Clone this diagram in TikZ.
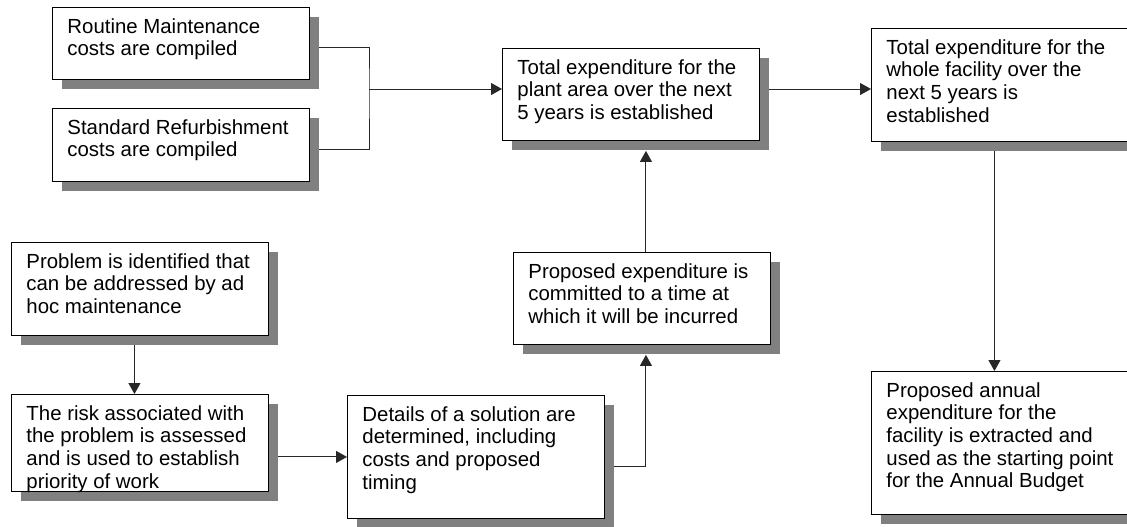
\documentclass[tikz,border=0pt]{standalone}
\usepackage{fontspec}
\setmainfont{Liberation Sans}
\usetikzlibrary{arrows.meta,shadows,backgrounds}
\definecolor{flowline}{RGB}{40,40,40}
\definecolor{flowshadow}{RGB}{128,128,128}
\tikzset{
	boxh/.code={\pgfmathsetlengthmacro\stepheight{#1-23}},
	stepbox/.style={draw=black, fill=white, line width=0.9pt, anchor=north west, inner xsep=15pt, inner ysep=11pt,
		drop shadow={shadow xshift=10pt, shadow yshift=-10pt, fill=flowshadow, opacity=1},
		execute at begin node={\begin{minipage}[c][\stepheight][t]{227pt}\fontsize{20.4}{22.6}\selectfont\raggedright},
		execute at end node={\end{minipage}}},
	flow/.style={draw=flowline, line width=1pt},
	arr/.style={flow, -{Triangle[length=11pt,width=12pt]}}
}

\begin{document}
\begin{tikzpicture}[x=1pt,y=-1pt]
		
		\useasboundingbox (0,0) rectangle (1127,527);
		
		\node[stepbox, boxh=73] (maint) at (52,7) {Routine Maintenance\\costs are compiled};
		\node[stepbox, boxh=74] (refurb) at (52,108) {Standard Refurbishment\\costs are compiled};
		\node[stepbox, boxh=93] (plant) at (502,48) {Total expenditure for the\\plant area over the next\\5 years is established};
		\node[stepbox, boxh=114] (facility) at (871,28) {Total expenditure for the\\whole facility over the\\next 5 years is\\established};
		\node[stepbox, boxh=144] (annual) at (871,371) {Proposed annual\\expenditure for the\\facility is extracted and\\used as the starting point\\for the Annual Budget};
		
		\node[stepbox, boxh=94] (problem) at (11,242) {Problem is identified that\\can be addressed by ad\\hoc maintenance};
		\node[stepbox, boxh=98] (risk) at (11,394) {The risk associated with\\the problem is assessed\\and is used to establish\\priority of work};
		\node[stepbox, boxh=124] (details) at (347,395) {Details of a solution are\\determined, including\\costs and proposed\\timing};
		\node[stepbox, boxh=93] (proposed) at (513,252) {Proposed expenditure is\\committed to a time at\\which it will be incurred};
		
		\coordinate (jn) at (369,89);
		\coordinate (up) at ([xshift=4pt]proposed.north);
		
		\begin{scope}[on background layer]
			\fill[white] (0,0) rectangle (1127,527);
			
			\draw[flow] ([yshift=-4.5pt]maint.east) -| (jn) |- ([yshift=-5pt]refurb.east);
			\draw[arr] (jn) -- (plant.west |- jn);
			\draw[arr] (plant.east |- jn) -- (facility.west |- jn);
			\draw[arr] ([xshift=-5.5pt]facility.south) -- ([xshift=-5.5pt]annual.north);
			
			\draw[arr] ([xshift=-5.5pt]problem.south) -- ([xshift=-5.5pt]risk.north);
			\draw[arr] (risk.east |- details.west) -- (details.west);
			\draw[arr] ([yshift=-10pt]details.east) -| ([yshift=-10pt]proposed.south -| up);
			\draw[arr] (up) -- ([yshift=-10pt]plant.south -| up);
		\end{scope}
		
	\end{tikzpicture}
\end{document}
